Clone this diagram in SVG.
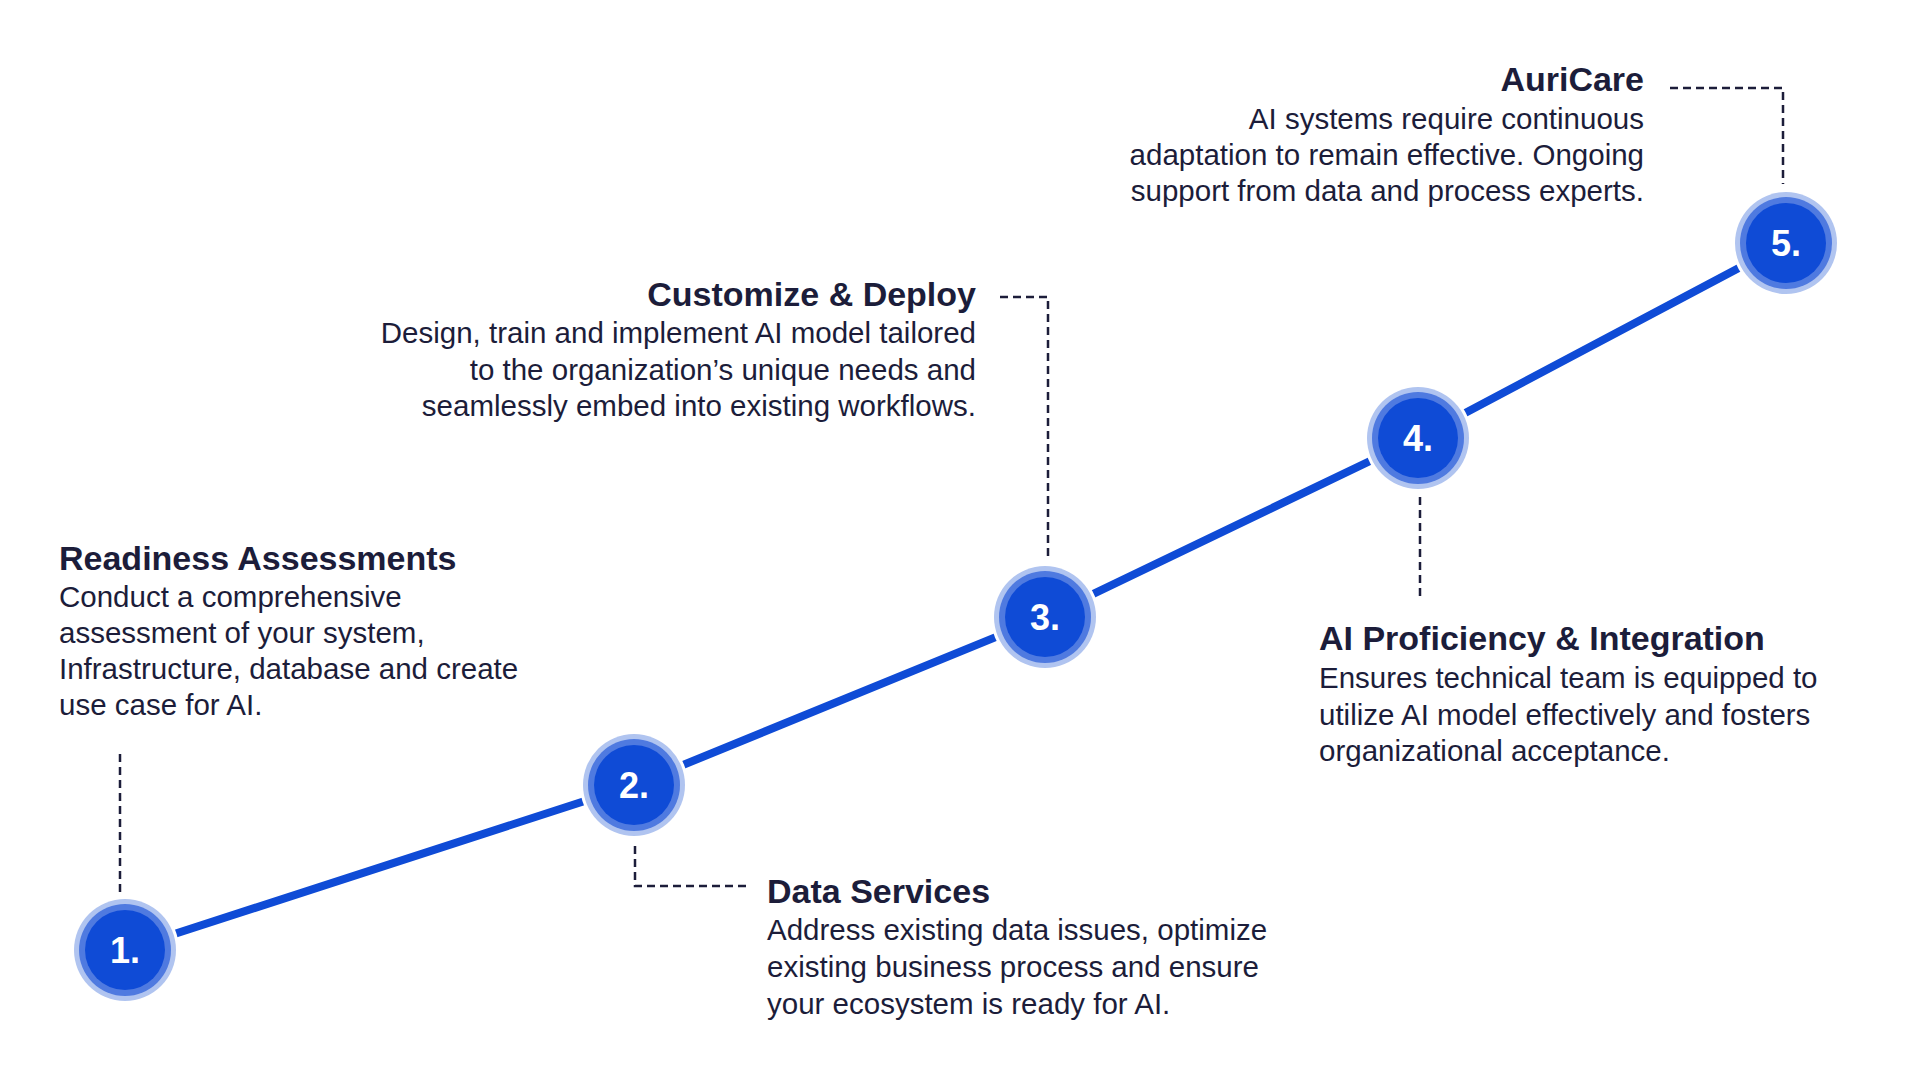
<svg xmlns="http://www.w3.org/2000/svg" width="1920" height="1080" viewBox="0 0 1920 1080">
<style>
.t{font-family:"Liberation Sans",Arial,sans-serif;font-weight:bold;font-size:34px;fill:#1c1d3a}
.b{font-family:"Liberation Sans",Arial,sans-serif;font-size:29.5px;fill:#1c1d3a}
.n{font-family:"Liberation Sans",Arial,sans-serif;font-weight:bold;font-size:36px;fill:#fff;text-anchor:middle}
.d{fill:none;stroke:#1c1d3a;stroke-width:2.5;stroke-dasharray:8 5}
.r{text-anchor:end}
</style>
<rect width="1920" height="1080" fill="#fff"/>
<g id="connectors">
<polyline points="125,950 634,785 1045,617 1418,438 1786,243" fill="none" stroke="#0f4bd6" stroke-width="8"/>
<path class="d" d="M120,754V895"/>
<path class="d" d="M635,846V886H748"/>
<path class="d" d="M1000,297H1048V561"/>
<path class="d" d="M1420,497V597"/>
<path class="d" d="M1670,88H1783V184"/>
</g>
<defs>
<g id="c"><circle r="54" fill="#fff"/><circle r="51" fill="#b0c4f0"/><circle r="46" fill="#4f7ae0"/><circle r="40" fill="#0f4bd6"/></g>
</defs>
<g id="node1"><use href="#c" x="125" y="950"/><text class="n" x="125" y="963">1.</text>
<text class="t" x="59" y="570">Readiness Assessments</text>
<text class="b" x="59" y="607">Conduct a comprehensive</text>
<text class="b" x="59" y="643">assessment of your system,</text>
<text class="b" x="59" y="679">Infrastructure, database and create</text>
<text class="b" x="59" y="715">use case for AI.</text></g>
<g id="node2"><use href="#c" x="634" y="785"/><text class="n" x="634" y="798">2.</text>
<text class="t" x="767" y="903">Data Services</text>
<text class="b" x="767" y="940">Address existing data issues, optimize</text>
<text class="b" x="767" y="977">existing business process and ensure</text>
<text class="b" x="767" y="1014">your ecosystem is ready for AI.</text></g>
<g id="node3"><use href="#c" x="1045" y="617"/><text class="n" x="1045" y="630">3.</text>
<text class="t r" x="976" y="306">Customize &amp; Deploy</text>
<text class="b r" x="976" y="343">Design, train and implement AI model tailored</text>
<text class="b r" x="976" y="380">to the organization’s unique needs and</text>
<text class="b r" x="976" y="416">seamlessly embed into existing workflows.</text></g>
<g id="node4"><use href="#c" x="1418" y="438"/><text class="n" x="1418" y="451">4.</text>
<text class="t" x="1319" y="650">AI Proficiency &amp; Integration</text>
<text class="b" x="1319" y="688">Ensures technical team is equipped to</text>
<text class="b" x="1319" y="725">utilize AI model effectively and fosters</text>
<text class="b" x="1319" y="761">organizational acceptance.</text></g>
<g id="node5"><use href="#c" x="1786" y="243"/><text class="n" x="1786" y="256">5.</text>
<text class="t r" x="1644" y="91">AuriCare</text>
<text class="b r" x="1644" y="129">AI systems require continuous</text>
<text class="b r" x="1644" y="165">adaptation to remain effective. Ongoing</text>
<text class="b r" x="1644" y="201">support from data and process experts.</text></g>
</svg>
